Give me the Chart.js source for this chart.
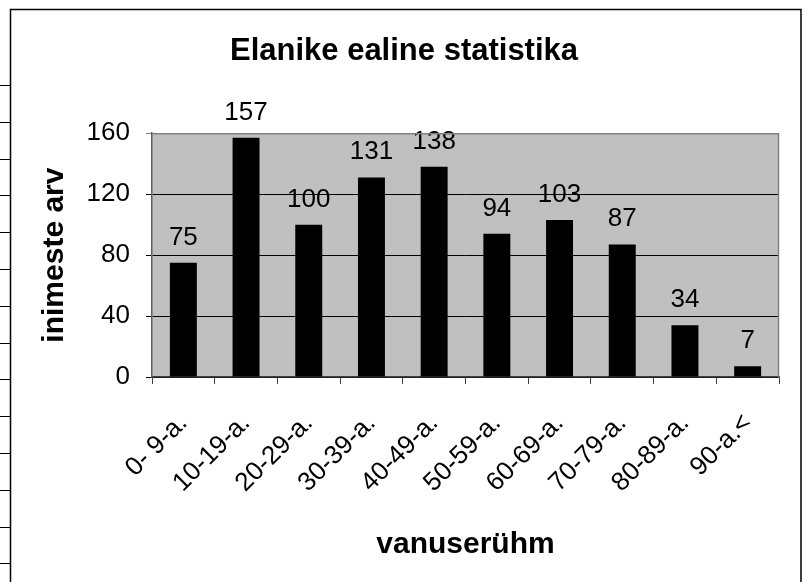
<!DOCTYPE html>
<html>
<head>
<meta charset="utf-8">
<script src="https://cdn.jsdelivr.net/npm/chart.js@4/dist/chart.umd.min.js"></script>
<style>
  html, body { margin: 0; padding: 0; background: #fff; }
  canvas { display: block; }
</style>
</head>
<body>
<canvas id="age-chart" width="804" height="582"></canvas>
<script>
// ============ DATA ============ //
const ageGroups = ["0- 9-a.", "10-19-a.", "20-29-a.", "30-39-a.", "40-49-a.",
  "50-59-a.", "60-69-a.", "70-79-a.", "80-89-a.", "90-a.<"];
const residents = [75, 157, 100, 131, 138, 94, 103, 87, 34, 7];
const yMin = 0;
const yMax = 160;
const yStep = 40;

const FONT = "'Liberation Sans', Arial, sans-serif";
Chart.defaults.font.family = FONT;
Chart.defaults.color = "#000";

// ============ PLUGINS ============ //

// white page, grey plot area, outer frame with the little cell marks on the left
const framePlugin = {
  id: "frame",
  beforeDraw(chart) {
    const { ctx, chartArea: a } = chart;
    ctx.save();
    ctx.fillStyle = "#fff";
    ctx.fillRect(0, 0, chart.width, chart.height);
    ctx.fillStyle = "#c0c0c0";
    ctx.fillRect(a.left, a.top, a.right - a.left, a.bottom - a.top);
    ctx.restore();
  },
  afterDraw(chart) {
    const { ctx, chartArea: a } = chart;
    ctx.save();
    // plot border (top + right)
    ctx.strokeStyle = "#808080";
    ctx.lineWidth = 1.5;
    ctx.beginPath();
    ctx.moveTo(a.left, a.top + 0.5);
    ctx.lineTo(a.right - 0.5, a.top + 0.5);
    ctx.lineTo(a.right - 0.5, a.bottom);
    ctx.stroke();
    // outer frame
    ctx.strokeStyle = "#000";
    ctx.lineWidth = 1.5;
    ctx.beginPath();
    ctx.moveTo(10.5, chart.height);
    ctx.lineTo(10.5, 9.5);
    ctx.lineTo(801, 9.5);
    ctx.lineTo(801, chart.height);
    ctx.stroke();
    // spreadsheet row marks outside the frame
    ctx.lineWidth = 1;
    ctx.beginPath();
    for (let y = 85; y < chart.height; y += 36.8) {
      ctx.moveTo(0, Math.round(y) + 0.5);
      ctx.lineTo(10, Math.round(y) + 0.5);
    }
    ctx.stroke();
    ctx.restore();
  }
};

// value above every bar
const valueLabels = {
  id: "valueLabels",
  afterDatasetsDraw(chart) {
    const { ctx } = chart;
    const meta = chart.getDatasetMeta(0);
    ctx.save();
    ctx.font = "26px " + FONT;
    ctx.fillStyle = "#000";
    ctx.textAlign = "center";
    ctx.textBaseline = "alphabetic";
    meta.data.forEach((bar, i) => {
      ctx.fillText(String(residents[i]), bar.x, bar.y - 18);
    });
    ctx.restore();
  }
};

// ============ CHART ============ //
const ageCanvas = document.getElementById("age-chart");

let ageChart = new Chart(ageCanvas, {
  type: "bar",
  data: {
    labels: ageGroups,
    datasets: [{
      data: residents,
      backgroundColor: "#000",
      borderWidth: 0,
      categoryPercentage: 1,
      barPercentage: 0.43
    }]
  },
  options: {
    responsive: false,
    animation: false,
    // left 29 so the chart title centres on the frame, not the plot
    layout: { padding: { left: 29, right: 25, top: 0, bottom: 0 } },
    plugins: {
      legend: { display: false },
      tooltip: { enabled: false },
      title: {
        display: true,
        text: "Elanike ealine statistika",
        color: "#000",
        font: { size: 31, weight: "bold" },
        padding: { top: 33, bottom: 63 }
      }
    },
    scales: {
      x: {
        offset: true,
        afterFit(scale) { scale.height = 205; },
        grid: {
          offset: true,
          drawOnChartArea: false,
          drawTicks: true,
          tickLength: 7,
          color: "#404040"
        },
        border: { color: "#404040", width: 1.5 },
        ticks: {
          font: { size: 26 },
          color: "#000",
          minRotation: 45,
          maxRotation: 45,
          padding: 24,
          autoSkip: false
        },
        title: {
          display: true,
          text: "vanuserühm",
          color: "#000",
          font: { size: 30, weight: "bold" },
          padding: { top: 0, bottom: 19 }
        }
      },
      y: {
        min: yMin,
        max: yMax,
        afterFit(scale) { scale.width = 123; },
        grid: {
          color: (c) => (c.tick && c.tick.value === yMax ? "#808080" : "#000"),
          lineWidth: 1,
          drawTicks: true,
          tickLength: 6
        },
        border: { color: "#606060", width: 1.5 },
        ticks: {
          stepSize: yStep,
          font: { size: 26 },
          color: "#000",
          padding: 16
        },
        title: {
          display: true,
          text: "inimeste arv",
          color: "#000",
          font: { size: 30, weight: "bold" },
          padding: { top: 8, bottom: 0 }
        }
      }
    }
  },
  plugins: [framePlugin, valueLabels]
});
</script>
</body>
</html>
